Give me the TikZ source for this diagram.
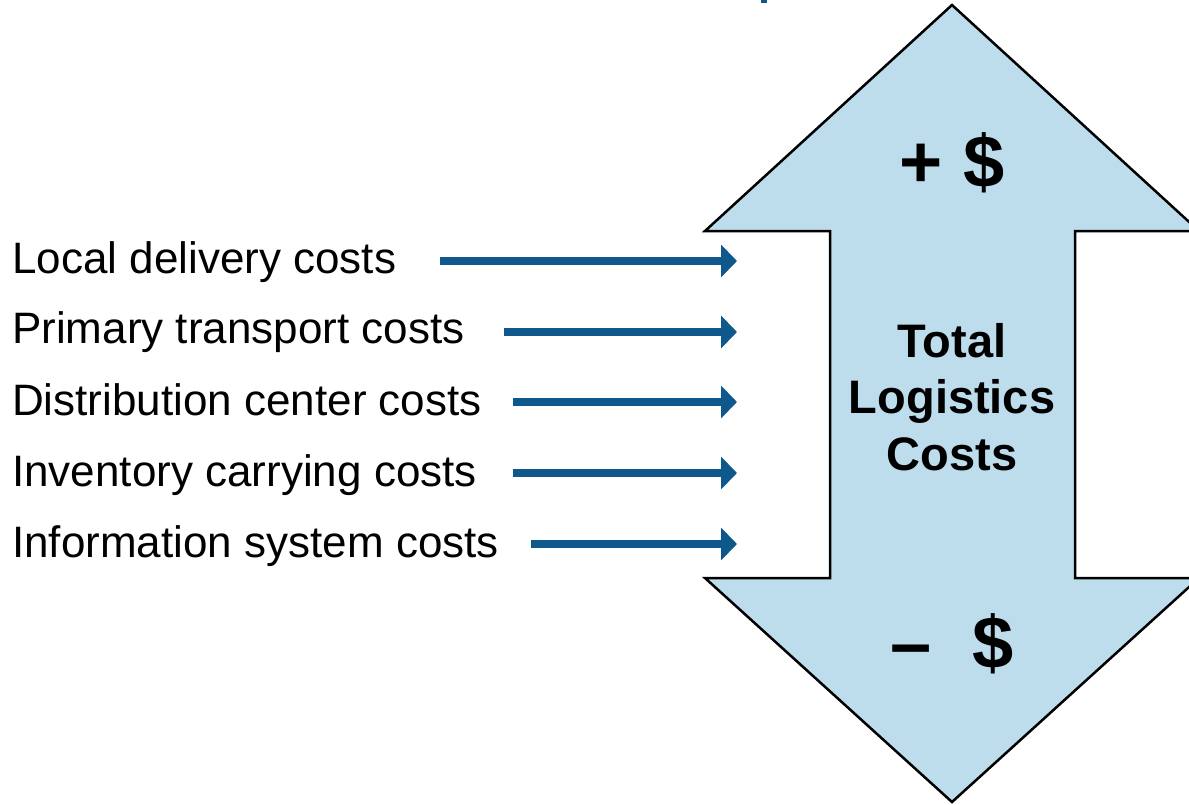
\documentclass[tikz,border=0pt]{standalone}
\usepackage{fontspec}
\setmainfont{Liberation Sans}
\usetikzlibrary{arrows.meta}
\definecolor{arrowblue}{RGB}{15,88,140}
\definecolor{shapefill}{RGB}{190,221,236}
\begin{document}
\begin{tikzpicture}[x=1pt,y=-1pt,
  lbl/.style={anchor=base west,inner sep=0pt,font=\fontsize{44}{50}\selectfont},
  bigtxt/.style={anchor=base,inner sep=0pt,font=\fontsize{47}{56}\selectfont\bfseries},
  signtxt/.style={anchor=base,inner sep=0pt,font=\fontsize{74}{80}\selectfont\bfseries},
  feed/.style={draw=arrowblue,line width=8pt,-{Triangle[length=16pt,width=32pt]}}]
\useasboundingbox (0,0) rectangle (1189,804);
\clip (0,0) rectangle (1189,804);
% title fragment
\fill[arrowblue] (761,0) rectangle (767,3);
% double arrow shape
\draw[line width=2.5pt,fill=shapefill,line join=miter]
  (952,5) -- (1199,231) -- (1075,231) -- (1075,578) -- (1199,578)
  -- (952,802) -- (705,578) -- (830,578) -- (830,231) -- (705,231) -- cycle;
\node[signtxt] (plus) at (952,187) {+ \$};
\node[signtxt] (minus) at (952,668) {–~~\$};
\node[bigtxt] (t1) at (952,357) {Total};
\node[bigtxt] (t2) at (952,413) {Logistics};
\node[bigtxt] (t3) at (952,470) {Costs};
% labels
\node[lbl] (l1) at (12,273) {Local delivery costs};
\node[lbl] (l2) at (12,343) {Primary transport costs};
\node[lbl] (l3) at (12,415) {Distribution center costs};
\node[lbl] (l4) at (12,486) {Inventory carrying costs};
\node[lbl] (l5) at (12,557) {Information system costs};
% connectors
\coordinate (s1) at (440,261); \coordinate (e1) at (737,261);
\coordinate (s2) at (504,332); \coordinate (e2) at (737,332);
\coordinate (s3) at (513,402); \coordinate (e3) at (737,402);
\coordinate (s4) at (513,473); \coordinate (e4) at (737,473);
\coordinate (s5) at (531,544); \coordinate (e5) at (737,544);
\draw[feed] (s1) -- (e1);
\draw[feed] (s2) -- (e2);
\draw[feed] (s3) -- (e3);
\draw[feed] (s4) -- (e4);
\draw[feed] (s5) -- (e5);
\end{tikzpicture}
\end{document}
